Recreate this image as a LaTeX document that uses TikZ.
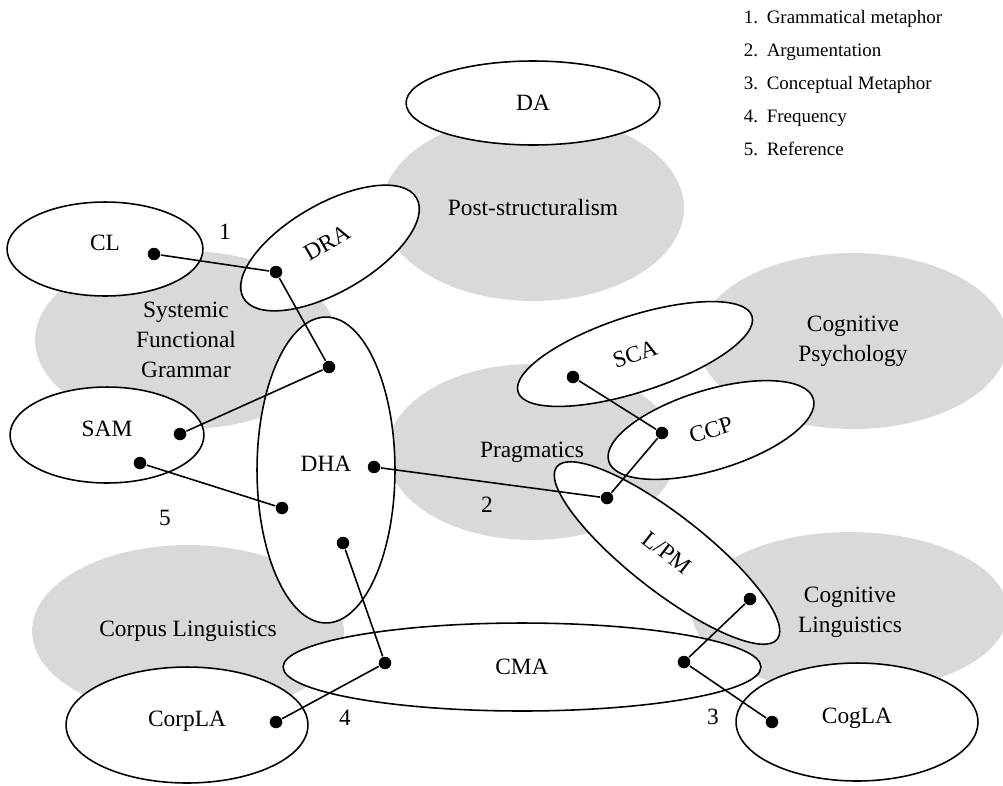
\documentclass[tikz,border=0pt]{standalone}
\usepackage{fontspec}
\setmainfont{Liberation Serif}
\usetikzlibrary{shapes.geometric}
\definecolor{fieldgray}{RGB}{217,217,217}

\begin{document}
\begin{tikzpicture}[x=0.02cm, y=-0.02cm,
    font=\fontsize{13.3}{17}\selectfont,
    radii/.style 2 args={minimum width={#1*0.04cm}, minimum height={#2*0.04cm}},
    field/.style={ellipse, fill=fieldgray, inner sep=0pt, align=center},
    approach/.style={ellipse, fill=white, inner sep=0pt, outer sep=0pt},
    lift/.style={text depth=0.25cm},
    dot/.style={circle, fill=black, inner sep=0pt, minimum size=0.25cm},
    link/.style={line width=0.9pt}]

    \useasboundingbox (0,0) rectangle (1003,785);

    % Disciplines (grey)
    \node[field, radii={151}{93}] (post) at (533,208) {Post-structuralism};
    \node[field, radii={151}{89}] (sfg) at (186,340) {Systemic\\Functional\\Grammar};
    \node[field, radii={145}{88}] (prag) at (532,452) {Pragmatics};
    \node[field, radii={155}{88}] (cogpsy) at (853,341) {Cognitive\\Psychology};
    \node[field, radii={158}{80}] (coglin) at (850,612) {Cognitive\\Linguistics};
    \node[field, radii={156}{86}] (corpus) at (188,631) {Corpus Linguistics};

    % Approaches (white)
    \node[approach, radii={127}{42}] (da) at (533,103) {DA};
    \node[approach, lift, radii={98}{47}] (cl) at (105,249) {CL};
    \node[approach, lift, radii={100}{44}, rotate=30] (dra) at (330,248) {DRA};
    \node[approach, lift, radii={97}{48}] (sam) at (107,435) {SAM};
    \node[approach, lift, radii={69}{153}] (dha) at (326,470) {DHA};
    \node[approach, radii={123}{38}, rotate=18] (sca) at (635,354) {SCA};
    \node[approach, radii={107}{40}, rotate=17] (ccp) at (711,430) {CCP};
    \node[approach, radii={140}{38}, rotate=-38] (lpm) at (667,553) {L/PM};
    \node[approach, radii={239}{44}] (cma) at (522,667) {CMA};
    \node[approach, lift, radii={121}{58}] (corpla) at (187,725) {CorpLA};
    \node[approach, lift, radii={121}{59}] (cogla) at (857,722) {CogLA};

    % Outlines after all fills, so that crossings stay visible
    \foreach \n in {da,cl,dra,sam,dha,sca,ccp,lpm,cma,corpla,cogla} {
        \pgfpathellipse{\pgfpointanchor{\n}{center}}
            {\pgfpointdiff{\pgfpointanchor{\n}{center}}{\pgfpointanchor{\n}{east}}}
            {\pgfpointdiff{\pgfpointanchor{\n}{center}}{\pgfpointanchor{\n}{north}}}
        \pgfsetlinewidth{0.9pt}
        \pgfusepath{stroke}
    }

    % Dots
    \node[dot] (cl1) at (154,254) {};
    \node[dot] (dra1) at (276,272) {};
    \node[dot] (dha1) at (329,367) {};
    \node[dot] (sam1) at (180,434) {};
    \node[dot] (sam2) at (140,463) {};
    \node[dot] (dha2) at (282,508) {};
    \node[dot] (dha3) at (374,467) {};
    \node[dot] (dha4) at (343,543) {};
    \node[dot] (lpm1) at (607,498) {};
    \node[dot] (ccp1) at (662,433) {};
    \node[dot] (sca1) at (573,377) {};
    \node[dot] (lpm2) at (750,599) {};
    \node[dot] (cma1) at (385,663) {};
    \node[dot] (cma2) at (684,662) {};
    \node[dot] (corpla1) at (276,722) {};
    \node[dot] (cogla1) at (772,722) {};

    % Links
    \draw[link] (cl1) -- (dra1) -- (dha1) -- (sam1);
    \draw[link] (sam2) -- (dha2);
    \draw[link] (dha3) -- (lpm1) -- (ccp1) -- (sca1);
    \draw[link] (lpm2) -- (cma2) -- (cogla1);
    \draw[link] (dha4) -- (cma1) -- (corpla1);

    % Numbers on the links
    \foreach \n/\x/\y in {1/225/232, 2/487/505, 3/713/717, 4/345/718, 5/165/518}
        \node (num\n) at (\x,\y) {\n};

    % Key
    \foreach \n/\t in {1/Grammatical metaphor, 2/Argumentation, 3/Conceptual Metaphor, 4/Frequency, 5/Reference}
        \node[anchor=base west, inner sep=0pt, font=\fontsize{10.8}{13}\selectfont]
            (key\n) at (743,{23+33.2*(\n-1)}) {\makebox[0.46cm][l]{\n.}\t};
\end{tikzpicture}
\end{document}
